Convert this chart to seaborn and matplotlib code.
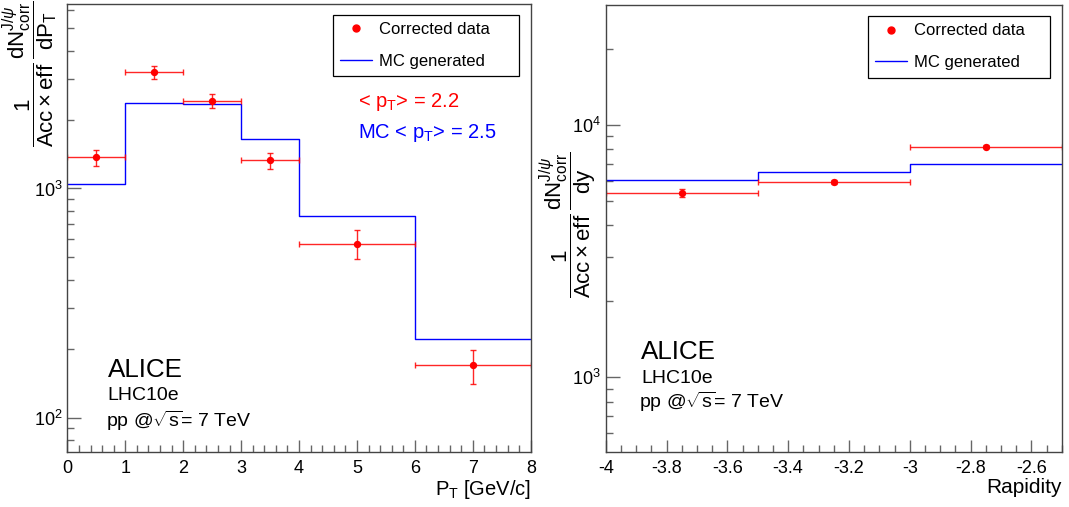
import numpy as np
import matplotlib
matplotlib.use("Agg")
import matplotlib.pyplot as plt
import seaborn as sns
from matplotlib.lines import Line2D
from matplotlib.ticker import MultipleLocator, NullFormatter, LogFormatterSciNotation

# ---------------- data ----------------
pt_edges = [0, 1, 2, 3, 4, 6, 8]
pt_centers = [0.5, 1.5, 2.5, 3.5, 5, 7]
pt_xerr = [0.5, 0.5, 0.5, 0.5, 1, 1]
pt_data = [1366, 3211, 2413, 1325, 575, 169]
pt_data_err = [112, 205, 162, 106, 84, 29]
pt_mc = [1047, 2350, 2328, 1637, 755, 220]

y_edges = [-4, -3.5, -3, -2.5]
y_centers = [-3.75, -3.25, -2.75]
y_xerr = [0.25, 0.25, 0.25]
y_data = [5350, 5929, 8183]
y_data_err = [190, 90, 110]
y_mc = [6026, 6520, 6965]

legend_labels = ["Corrected data", "MC generated"]
rap_ticks = [-4, -3.8, -3.6, -3.4, -3.2, -3, -2.8, -2.6]
rap_ticklabels = ["-4", "-3.8", "-3.6", "-3.4", "-3.2", "-3", "-2.8", "-2.6"]

# ---------------- style ----------------
sns.set_theme(style="ticks")
plt.rcParams["font.family"] = ["Liberation Sans", "DejaVu Sans"]
plt.rcParams["mathtext.fontset"] = "custom"
plt.rcParams["mathtext.rm"] = "Liberation Sans"
plt.rcParams["mathtext.it"] = "Liberation Sans:italic"
plt.rcParams["mathtext.bf"] = "Liberation Sans:bold"
plt.rcParams["mathtext.sf"] = "Liberation Sans"
plt.rcParams["text.color"] = "black"
plt.rcParams["axes.labelcolor"] = "black"
plt.rcParams["xtick.labelcolor"] = "black"
plt.rcParams["ytick.labelcolor"] = "black"

FRAME = "#444444"
TICKC = "#666666"

fig = plt.figure(figsize=(10.69, 5.07), dpi=100)
axL = fig.add_axes([0.063, 0.109, 0.4335, 0.883])
axR = fig.add_axes([0.5666, 0.109, 0.4266, 0.8817])


def style_axes(ax):
    for sp in ax.spines.values():
        sp.set_color(FRAME)
        sp.set_linewidth(1.0)
    ax.tick_params(axis="both", which="both", direction="in", colors=TICKC,
                   labelcolor="black", labelsize=13, width=1.0,
                   top=False, right=False)
    ax.tick_params(axis="y", which="major", length=10)
    ax.tick_params(axis="y", which="minor", length=5)
    ax.tick_params(axis="x", which="major", length=8.5, pad=6)
    ax.tick_params(axis="x", which="minor", length=4.7)
    ax.yaxis.set_minor_formatter(NullFormatter())
    ax.yaxis.set_major_formatter(LogFormatterSciNotation())
    ax.grid(False)


def draw(ax, edges, centers, xerr, data, derr, mc):
    sns.histplot(x=[(edges[i] + edges[i + 1]) / 2 for i in range(len(edges) - 1)],
                 weights=mc, bins=edges, element="step", fill=False,
                 color="blue", linewidth=1.0, ax=ax, legend=False)
    ax.errorbar(centers, data, xerr=xerr, yerr=derr, fmt="none",
                ecolor="red", elinewidth=1.0, capsize=2.2, capthick=1.0, alpha=0.85)
    sns.scatterplot(x=centers, y=data, color="red", s=28, edgecolor="red",
                    linewidth=0, ax=ax, zorder=5)
    ax.set_yscale("log")
    ax.set_ylabel("")
    ax.set_xlabel("")
    handles = [Line2D([], [], marker="o", color="red", linestyle="none", markersize=5),
               Line2D([], [], color="blue", linewidth=1.0)]
    return handles


def add_legend(ax, handles, anchor):
    leg = ax.legend(handles, legend_labels, loc="upper left",
                    bbox_to_anchor=anchor, mode="expand",
                    fontsize=12, frameon=True, fancybox=False, shadow=False,
                    borderpad=0.45, labelspacing=1.0, handlelength=1.9,
                    handletextpad=0.4, borderaxespad=0)
    leg.get_frame().set_edgecolor("black")
    leg.get_frame().set_linewidth(0.9)
    leg.get_frame().set_alpha(1)
    for t in leg.get_texts():
        t.set_color("black")
    return leg


SQRT_TXT = r"pp @$\sqrt{\mathrm{s}}$= 7 TeV"
JPSI = r"\mathrm{dN}^{\mathrm{J/}\psi}_{\mathrm{corr}}"

# ---------------- left panel ----------------
h = draw(axL, pt_edges, pt_centers, pt_xerr, pt_data, pt_data_err, pt_mc)
axL.set_xlim(0, 8)
axL.set_ylim(71, 6380)
axL.xaxis.set_major_locator(MultipleLocator(1))
axL.xaxis.set_minor_locator(MultipleLocator(0.2))
style_axes(axL)
add_legend(axL, h, (0.573, 0.976, 0.402, 0.0))

axL.text(0.627, 0.781, r"< p$_{\mathrm{T}}$> = 2.2", transform=axL.transAxes,
         color="red", fontsize=14.5, ha="left", va="center")
axL.text(0.627, 0.712, r"MC < p$_{\mathrm{T}}$> = 2.5", transform=axL.transAxes,
         color="blue", fontsize=14.5, ha="left", va="center")

axL.text(0.087, 0.183, "ALICE", transform=axL.transAxes, fontsize=18.7,
         ha="left", va="center")
axL.text(0.087, 0.125, "LHC10e", transform=axL.transAxes, fontsize=14,
         ha="left", va="center")
axL.text(0.083, 0.068, SQRT_TXT, transform=axL.transAxes,
         fontsize=14, ha="left", va="center")

axL.set_xlabel(r"P$_{\mathrm{T}}$ [GeV/c]", fontsize=14.5, ha="right", x=1.0,
               labelpad=1)

fig.text(31 / 1069, 1 - 1 / 507,
         r"$\dfrac{1}{\mathrm{Acc}\times\mathrm{eff}}\,\dfrac{" + JPSI + r"}{\mathrm{dP}_{\mathrm{T}}}$",
         rotation=90, ha="center", va="top", fontsize=16)

# ---------------- right panel ----------------
h = draw(axR, y_edges, y_centers, y_xerr, y_data, y_data_err, y_mc)
axR.set_xlim(-4, -2.5)
axR.set_ylim(507, 29850)
axR.xaxis.set_minor_locator(MultipleLocator(0.05))
style_axes(axR)
axR.set_xticks(rap_ticks)
axR.set_xticklabels(rap_ticklabels)
add_legend(axR, h, (0.575, 0.975, 0.40, 0.0))

axR.text(0.078, 0.223, "ALICE", transform=axR.transAxes, fontsize=18.7,
         ha="left", va="center")
axR.text(0.078, 0.164, "LHC10e", transform=axR.transAxes, fontsize=14,
         ha="left", va="center")
axR.text(0.074, 0.111, SQRT_TXT, transform=axR.transAxes,
         fontsize=14, ha="left", va="center")

axR.set_xlabel("Rapidity", fontsize=15, ha="right", x=1.0, labelpad=1)

fig.text(569 / 1069, 1 - 225 / 507,
         r"$\dfrac{1}{\mathrm{Acc}\times\mathrm{eff}}\,\dfrac{" + JPSI + r"}{\mathrm{dy}}$",
         rotation=90, ha="center", va="center", fontsize=16)

fig.savefig("out.png", dpi=100, facecolor="white")
